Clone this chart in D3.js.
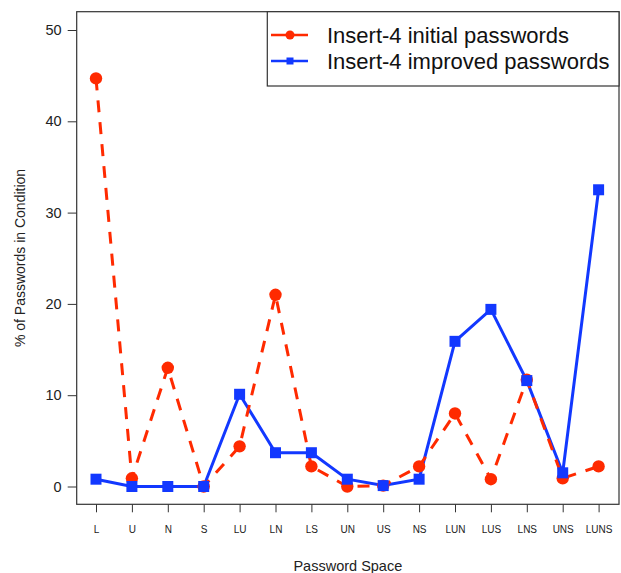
<!DOCTYPE html>
<html><head><meta charset="utf-8">
<script src="https://cdn.jsdelivr.net/npm/d3@7"></script>
<style>body{margin:0;background:#fff}svg{display:block}text{font-family:"Liberation Sans",Arial,sans-serif}</style>
</head><body>
<script>
const categories = ["L","U","N","S","LU","LN","LS","UN","US","NS","LUN","LUS","LNS","UNS","LUNS"];
const initialValues = [44.7,0.9,13.0,0,4.4,21.0,2.2,0,0.1,2.2,8.0,0.8,11.7,0.9,2.2];
const improvedValues = [0.8,0,0,0,10.1,3.7,3.7,0.8,0.1,0.8,15.9,19.4,11.6,1.5,32.5];
const yTicks = [0,10,20,30,40,50];
const seriesNames = ["Insert-4 initial passwords","Insert-4 improved passwords"];

const W=621,H=573;
const box={l:76.7,r:619,t:11.7,b:504.3};
const svg=d3.select("body").append("svg").attr("width",W).attr("height",H);

const x=d3.scalePoint().domain(categories).range([96,598.6]);
const y=d3.scaleLinear().domain([0,50]).range([486.5,30]);

// box
svg.append("rect").attr("x",box.l).attr("y",box.t).attr("width",box.r-box.l).attr("height",box.b-box.t)
  .attr("fill","none").attr("stroke","#333").attr("stroke-width",1.2);

// y axis
const ya=svg.append("g").attr("transform",`translate(${box.l},0)`)
  .call(d3.axisLeft(y).tickValues(yTicks).tickSize(9).tickPadding(6));
ya.select(".domain").remove();
ya.selectAll("line").attr("stroke","#333");
ya.selectAll("text").attr("font-size",14.5).attr("fill","#222").style("font-family","'Liberation Sans',Arial,sans-serif");

// x axis
const xa=svg.append("g").attr("transform",`translate(0,${box.b})`)
  .call(d3.axisBottom(x).tickSize(8).tickPadding(14));
xa.select(".domain").remove();
xa.selectAll("line").attr("stroke","#333");
xa.selectAll("text").attr("font-size",10).attr("fill","#222").style("font-family","'Liberation Sans',Arial,sans-serif");

// titles
svg.append("text").attr("x",(box.l+box.r)/2).attr("y",571).attr("text-anchor","middle")
  .attr("font-size",14.5).attr("fill","#222").text("Password Space");
svg.append("text").attr("transform",`translate(25,${(box.t+box.b)/2}) rotate(-90)`).attr("text-anchor","middle")
  .attr("font-size",14).attr("fill","#222").text("% of Passwords in Condition");

const red="#ff2a00", blue="#1238ff";
const line=d3.line().x((d,i)=>x(categories[i])).y(d=>y(d));

svg.append("path").datum(improvedValues).attr("d",line).attr("fill","none").attr("stroke",blue).attr("stroke-width",3);
svg.append("path").datum(initialValues).attr("d",line).attr("fill","none").attr("stroke",red).attr("stroke-width",3).attr("stroke-dasharray","12,10");

svg.append("g").selectAll("circle").data(initialValues).join("circle")
  .attr("cx",(d,i)=>x(categories[i])).attr("cy",d=>y(d)).attr("r",6.2).attr("fill",red);
svg.append("g").selectAll("rect").data(improvedValues).join("rect")
  .attr("x",(d,i)=>x(categories[i])-5.5).attr("y",d=>y(d)-5.5).attr("width",11).attr("height",11).attr("fill",blue);

// legend
const lg=svg.append("g");
lg.append("rect").attr("x",267.3).attr("y",box.t).attr("width",box.r-267.3).attr("height",86-box.t)
  .attr("fill","#fff").attr("stroke","#333").attr("stroke-width",1.2);
const rows=[{n:seriesNames[0],c:red,y:35,shape:"circle"},{n:seriesNames[1],c:blue,y:61,shape:"square"}];
rows.forEach(r=>{
  lg.append("line").attr("x1",271).attr("x2",308).attr("y1",r.y).attr("y2",r.y).attr("stroke",r.c).attr("stroke-width",2.5);
  if(r.shape==="circle") lg.append("circle").attr("cx",290).attr("cy",r.y).attr("r",4.5).attr("fill",r.c);
  else lg.append("rect").attr("x",286.5).attr("y",r.y-3.5).attr("width",7).attr("height",7).attr("fill",r.c);
  lg.append("text").attr("x",327).attr("y",r.y).attr("dy","0.36em").attr("font-size",22).attr("fill","#111").text(r.n);
});
</script>
</body></html>
